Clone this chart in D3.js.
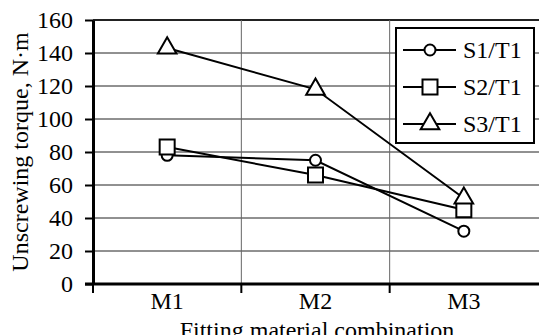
<!DOCTYPE html>
<html>
<head>
<meta charset="utf-8">
<script src="https://cdn.jsdelivr.net/npm/d3@7"></script>
<style>
  body { margin: 0; background: #fff; }
  svg { display: block; font-family: 'Liberation Serif', 'Times New Roman', serif; }
</style>
</head>
<body>
<svg width="539" height="335"></svg>
<script>
var categories = ["M1", "M2", "M3"];
var seriesNames = ["S1/T1", "S2/T1", "S3/T1"];
var s1 = [78, 75, 32];
var s2 = [83, 66, 45];
var s3 = [143, 118, 52];
var yTicks = [0, 20, 40, 60, 80, 100, 120, 140, 160];

var svg = d3.select("svg"),
    plotLeft = 93, plotRight = 538, plotTop = 20, plotBottom = 284,
    serif = "'Liberation Serif', 'Times New Roman', serif";

var x = d3.scaleBand().domain(categories).range([plotLeft, plotRight]).padding(0),
    y = d3.scaleLinear().domain([0, 160]).range([plotBottom, plotTop]);

var cx = function(c) { return x(c) + x.bandwidth() / 2; };

// horizontal grid
svg.append("g").selectAll("line")
  .data(yTicks.slice(1))
  .enter().append("line")
    .attr("x1", plotLeft).attr("x2", 539)
    .attr("y1", function(d) { return y(d); })
    .attr("y2", function(d) { return y(d); })
    .style("stroke", "#222")
    .style("stroke-width", function(d) { return d === 160 ? 2 : 1; });

// vertical grid at category boundaries
svg.append("g").selectAll("line")
  .data(categories.slice(1))
  .enter().append("line")
    .attr("x1", function(d) { return x(d); })
    .attr("x2", function(d) { return x(d); })
    .attr("y1", plotTop).attr("y2", plotBottom)
    .style("stroke", "#666")
    .style("stroke-width", 1);

// y axis
var yAxis = svg.append("g")
    .attr("transform", "translate(" + plotLeft + ",0)")
    .call(d3.axisLeft(y).tickValues(yTicks).tickSize(8).tickPadding(12).tickSizeOuter(0));
yAxis.select(".domain").style("stroke", "#000").style("stroke-width", 3);
yAxis.selectAll(".tick line").style("stroke-width", 2);
yAxis.selectAll("text").style("font-size", "24px").style("font-family", serif).attr("fill", "#000");

// x axis labels
var xAxis = svg.append("g")
    .attr("transform", "translate(0," + plotBottom + ")")
    .call(d3.axisBottom(x).tickSize(0).tickPadding(8).tickSizeOuter(0));
xAxis.select(".domain").remove();
xAxis.selectAll("text").style("font-size", "24px").style("font-family", serif).attr("fill", "#000");

// bottom axis line and boundary ticks
svg.append("line")
    .attr("x1", plotLeft - 8).attr("x2", 539)
    .attr("y1", plotBottom).attr("y2", plotBottom)
    .style("stroke", "#000").style("stroke-width", 3);
svg.append("g").selectAll("line")
  .data(categories)
  .enter().append("line")
    .attr("x1", function(d) { return x(d); })
    .attr("x2", function(d) { return x(d); })
    .attr("y1", plotBottom).attr("y2", plotBottom + 9)
    .style("stroke", "#000").style("stroke-width", 2);

// axis titles
svg.append("text")
    .attr("transform", "translate(28,152) rotate(-90)")
    .attr("text-anchor", "middle")
    .style("font-family", serif)
    .style("font-size", "24px")
    .text("Unscrewing torque, N·m");

svg.append("text")
    .attr("x", 317).attr("y", 338)
    .attr("text-anchor", "middle")
    .style("font-family", serif)
    .style("font-size", "24px")
    .text("Fitting material combination");

// series
var series = [s1, s2, s3];
var shapes = [d3.symbolCircle, d3.symbolSquare, d3.symbolTriangle];
var sizes = [95, 225, 150];

var line = d3.line()
    .x(function(d, i) { return cx(categories[i]); })
    .y(function(d) { return y(d); });

series.forEach(function(vals) {
  svg.append("path")
      .attr("d", line(vals))
      .style("fill", "none")
      .style("stroke", "#000")
      .style("stroke-width", 2);
});

series.forEach(function(vals, k) {
  svg.append("g").selectAll("path")
    .data(vals)
    .enter().append("path")
      .attr("transform", function(d, i) { return "translate(" + cx(categories[i]) + "," + y(d) + ")"; })
      .attr("d", d3.symbol().type(shapes[k]).size(sizes[k]))
      .style("fill", "#fff")
      .style("stroke", "#000")
      .style("stroke-width", 2);
});

// legend
var legend = svg.append("g");
legend.append("rect")
    .attr("x", 396).attr("y", 28).attr("width", 138).attr("height", 115)
    .style("fill", "#fff").style("stroke", "#000").style("stroke-width", 2);

seriesNames.forEach(function(name, k) {
  var ly = 50 + k * 37;
  legend.append("line")
      .attr("x1", 403).attr("x2", 456).attr("y1", ly).attr("y2", ly)
      .style("stroke", "#000").style("stroke-width", 2);
  legend.append("path")
      .attr("transform", "translate(430," + ly + ")")
      .attr("d", d3.symbol().type(shapes[k]).size(sizes[k]))
      .style("fill", "#fff").style("stroke", "#000").style("stroke-width", 2);
  legend.append("text")
      .attr("x", 463).attr("y", ly + 8)
      .style("font-family", serif)
      .style("font-size", "24px")
      .text(name);
});
</script>
</body>
</html>
